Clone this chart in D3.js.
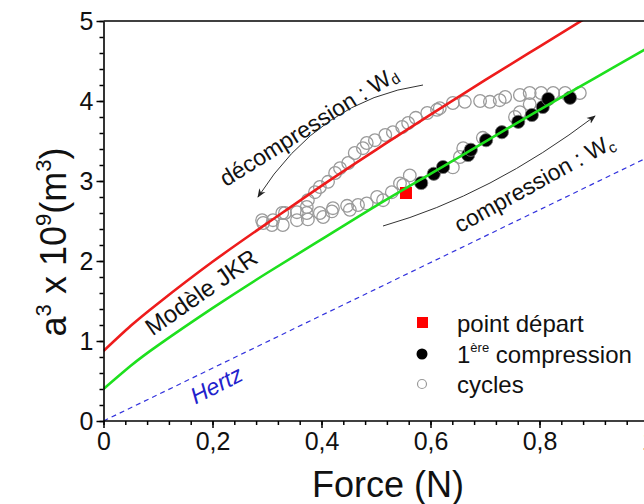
<!DOCTYPE html>
<html><head><meta charset="utf-8">
<script src="https://cdn.jsdelivr.net/npm/d3@7"></script>
<style>
html,body{margin:0;padding:0;background:#fff;}
svg text{font-family:"Liberation Sans",Arial,sans-serif;}
</style></head>
<body>
<svg id="c" width="644" height="504"></svg>
<script>
// ---- data ----
const xTicks = [0, 0.2, 0.4, 0.6, 0.8, 1];
const xTickLabels = ["0", "0,2", "0,4", "0,6", "0,8", "1"];
const yTicks = [0, 1, 2, 3, 4, 5];
const yTickLabels = ["0", "1", "2", "3", "4", "5"];

// JKR curve - decompression (red)
const jkrDecompF = [0, 0.05, 0.1, 0.2, 0.3, 0.4, 0.5, 0.6, 0.7, 0.8, 0.9];
const jkrDecompY = [0.875, 1.19, 1.47, 1.99, 2.47, 2.94, 3.39, 3.83, 4.26, 4.68, 5.10];
// JKR curve - compression (green)
const jkrCompF = [0, 0.05, 0.1, 0.2, 0.3, 0.4, 0.5, 0.6, 0.7, 0.8, 0.9, 1.0, 1.1];
const jkrCompY = [0.40, 0.69, 0.945, 1.41, 1.85, 2.27, 2.69, 3.09, 3.49, 3.89, 4.28, 4.67, 5.05];
// Hertz (blue dashed)
const hertzF = [0, 1.1];
const hertzY = [0, 3.63];

// starting point
const startF = [0.555];
const startY = [2.85];

// 1st compression
const firstF = [0.583, 0.606, 0.623, 0.669, 0.674, 0.702, 0.731, 0.761, 0.786, 0.806, 0.816, 0.856];
const firstY = [2.975, 3.09, 3.175, 3.325, 3.39, 3.51, 3.61, 3.74, 3.825, 3.925, 4.025, 4.04];

// cycles (open circles)
const cycF = [0.291, 0.309, 0.328, 0.329, 0.355, 0.373, 0.375, 0.397, 0.403, 0.419, 0.421, 0.447, 0.452, 0.467,
  0.483, 0.502, 0.513, 0.529, 0.544, 0.550, 0.562, 0.654, 0.641, 0.660, 0.696, 0.755, 0.764, 0.782,
  0.874, 0.847, 0.825, 0.803, 0.782, 0.764, 0.737, 0.727, 0.709, 0.691, 0.663, 0.641, 0.617, 0.612,
  0.594, 0.573, 0.559, 0.548, 0.531, 0.517, 0.498, 0.483, 0.476, 0.461, 0.449, 0.434, 0.425, 0.412,
  0.397, 0.388, 0.375, 0.373, 0.355, 0.333, 0.311, 0.293];
const cycY = [2.51, 2.45, 2.60, 2.45, 2.51, 2.60, 2.52, 2.60, 2.55, 2.62, 2.66, 2.69, 2.64, 2.70,
  2.72, 2.80, 2.76, 2.86, 2.97, 2.95, 3.07, 3.30, 3.17, 3.41, 3.54, 3.80, 3.86, 3.96,
  4.10, 4.10, 4.10, 4.10, 4.10, 4.075, 4.05, 4.01, 3.99, 4.00, 3.99, 3.975, 3.91, 3.89,
  3.85, 3.79, 3.725, 3.675, 3.61, 3.575, 3.51, 3.475, 3.41, 3.35, 3.225, 3.16, 3.10, 2.99,
  2.925, 2.86, 2.76, 2.675, 2.61, 2.60, 2.51, 2.475];

const legendLabels = ["point départ", "1", "cycles"];

// ---- drawing ----
const svg = d3.select("#c");
const x = d3.scaleLinear().domain([0, 1]).range([103.5, 648.5]);
const y = d3.scaleLinear().domain([0, 5]).range([421, 21]);
const FONT = '"Liberation Sans",Arial,sans-serif';

svg.append("defs").append("clipPath").attr("id", "plot")
  .append("rect").attr("x", x(0)).attr("y", y(5)).attr("width", 644 - x(0)).attr("height", y(0) - y(5));
svg.select("defs").append("marker").attr("id", "ah")
  .attr("viewBox", "0 0 10 10").attr("refX", 9).attr("refY", 5)
  .attr("markerWidth", 9).attr("markerHeight", 9).attr("orient", "auto").attr("markerUnits", "userSpaceOnUse")
  .append("path").attr("d", "M0,1 L10,5 L0,9 L3,5 Z").attr("fill", "#222");

const plot = svg.append("g").attr("clip-path", "url(#plot)");

// markers
plot.selectAll("circle.cyc").data(cycF.map((f, i) => [f, cycY[i]])).enter()
  .append("circle").attr("class", "cyc")
  .attr("cx", d => x(d[0])).attr("cy", d => y(d[1])).attr("r", 6.3)
  .attr("fill", "none").attr("stroke", "#9a9a9a").attr("stroke-width", 1.3);

plot.selectAll("circle.first").data(firstF.map((f, i) => [f, firstY[i]])).enter()
  .append("circle").attr("class", "first")
  .attr("cx", d => x(d[0])).attr("cy", d => y(d[1])).attr("r", 6.6)
  .attr("fill", "#000").attr("stroke", "#777").attr("stroke-width", 0.8);

plot.selectAll("rect.start").data(startF.map((f, i) => [f, startY[i]])).enter()
  .append("rect").attr("class", "start")
  .attr("x", d => x(d[0]) - 6).attr("y", d => y(d[1]) - 6).attr("width", 12).attr("height", 12)
  .attr("fill", "#ff0000");

// curves
const line = d3.line().x(d => x(d[0])).y(d => y(d[1])).curve(d3.curveNatural);
plot.append("path").datum(hertzF.map((f, i) => [f, hertzY[i]]))
  .attr("d", line).attr("fill", "none").attr("stroke", "#3333dd").attr("stroke-width", 1.2)
  .attr("stroke-dasharray", "5,4");
plot.append("path").datum(jkrCompF.map((f, i) => [f, jkrCompY[i]]))
  .attr("d", line).attr("fill", "none").attr("stroke", "#1ee01e").attr("stroke-width", 2.6);
plot.append("path").datum(jkrDecompF.map((f, i) => [f, jkrDecompY[i]]))
  .attr("d", line).attr("fill", "none").attr("stroke", "#ee1c1c").attr("stroke-width", 2.6);

// axes
const xAxis = svg.append("g").attr("transform", `translate(0,${y(0)})`)
  .call(d3.axisBottom(x).tickValues(xTicks).tickFormat((d, i) => xTickLabels[i]).tickSize(7).tickSizeOuter(0).tickPadding(4));
const xMinor = svg.append("g").attr("transform", `translate(0,${y(0)})`)
  .call(d3.axisBottom(x).tickValues(d3.range(0, 1.0001, 0.04)).tickFormat("").tickSize(4).tickSizeOuter(0));
const yAxis = svg.append("g").attr("transform", `translate(${x(0)},0)`)
  .call(d3.axisLeft(y).tickValues(yTicks).tickFormat((d, i) => yTickLabels[i]).tickSize(7).tickSizeOuter(0).tickPadding(3));
const yMinor = svg.append("g").attr("transform", `translate(${x(0)},0)`)
  .call(d3.axisLeft(y).tickValues(d3.range(0, 5.0001, 0.2)).tickFormat("").tickSize(4).tickSizeOuter(0));
[xAxis, xMinor, yAxis, yMinor].forEach(g => {
  g.select(".domain").attr("stroke", "#000").attr("stroke-width", 1.6);
  g.selectAll(".tick line").attr("stroke", "#000").attr("stroke-width", 1.5);
  g.selectAll(".tick text").attr("font-family", FONT).attr("font-size", 25).attr("fill", "#111");
});
xMinor.select(".domain").remove();
yMinor.select(".domain").remove();
xAxis.select(".domain").attr("d", `M${x(0)},0H644`);
// top frame
svg.append("line").attr("x1", x(0)).attr("x2", 644).attr("y1", y(5)).attr("y2", y(5))
  .attr("stroke", "#000").attr("stroke-width", 1.6);

// axis titles
svg.append("text").attr("x", 388).attr("y", 497).attr("text-anchor", "middle")
  .attr("font-size", 36).attr("font-family", FONT).attr("fill", "#111").text("Force (N)");
const yl = svg.append("text").attr("transform", "translate(66,242) rotate(-90)")
  .attr("text-anchor", "middle").attr("font-size", 36).attr("font-family", FONT).attr("fill", "#111");
yl.append("tspan").text("a");
yl.append("tspan").attr("font-size", 22).attr("dy", -15).text("3");
yl.append("tspan").attr("dy", 15).text(" x 10");
yl.append("tspan").attr("font-size", 22).attr("dy", -15).text("9");
yl.append("tspan").attr("dy", 15).text("(m");
yl.append("tspan").attr("font-size", 22).attr("dy", -15).text("3");
yl.append("tspan").attr("dy", 15).text(")");

// annotations
svg.append("text").attr("transform", "translate(206,299) rotate(-35)").attr("text-anchor", "middle")
  .attr("font-size", 24).attr("font-family", FONT).attr("fill", "#111").text("Modèle JKR");
svg.append("text").attr("transform", "translate(220,392) rotate(-27)").attr("text-anchor", "middle")
  .attr("font-size", 23).attr("font-family", FONT).attr("font-style", "italic").attr("fill", "#2222cc").text("Hertz");

const td = svg.append("text").attr("transform", "translate(313,133) rotate(-32)").attr("text-anchor", "middle")
  .attr("font-size", 23).attr("font-family", FONT).attr("fill", "#111");
td.append("tspan").text("décompression : W");
td.append("tspan").attr("font-size", 15).attr("dy", 3).text("d");

const tc = svg.append("text").attr("transform", "translate(538,190) rotate(-29)").attr("text-anchor", "middle")
  .attr("font-size", 23).attr("font-family", FONT).attr("fill", "#111");
tc.append("tspan").text("compression : W");
tc.append("tspan").attr("font-size", 15).attr("dy", 4).text("c");

// curved arrows
svg.append("path").attr("d", "M423,85 Q320,100 258,197").attr("fill", "none")
  .attr("stroke", "#333").attr("stroke-width", 1).attr("marker-end", "url(#ah)");
svg.append("path").attr("d", "M383,226 Q491,195 595,116").attr("fill", "none")
  .attr("stroke", "#333").attr("stroke-width", 1).attr("marker-end", "url(#ah)");

// legend
svg.append("rect").attr("x", 417).attr("y", 317).attr("width", 11).attr("height", 11).attr("fill", "#ff0000");
svg.append("circle").attr("cx", 422).attr("cy", 354).attr("r", 5.5).attr("fill", "#000");
svg.append("circle").attr("cx", 422).attr("cy", 384).attr("r", 4.5).attr("fill", "none").attr("stroke", "#9a9a9a").attr("stroke-width", 1.2);
svg.append("text").attr("x", 457).attr("y", 332).attr("font-size", 24).attr("font-family", FONT).attr("fill", "#111").text(legendLabels[0]);
const l2 = svg.append("text").attr("x", 457).attr("y", 363).attr("font-size", 24).attr("font-family", FONT).attr("fill", "#111");
l2.append("tspan").text(legendLabels[1]);
l2.append("tspan").attr("font-size", 13).attr("dy", -11).text("ère");
l2.append("tspan").attr("dy", 11).text(" compression");
svg.append("text").attr("x", 457).attr("y", 393).attr("font-size", 24).attr("font-family", FONT).attr("fill", "#111").text(legendLabels[2]);
</script>
</body></html>
